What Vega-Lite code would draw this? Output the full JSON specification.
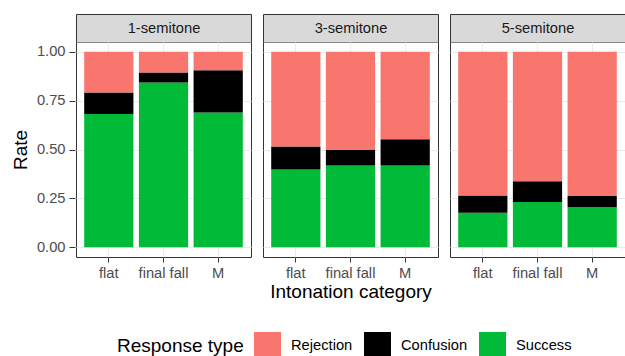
{
  "$schema": "https://vega.github.io/schema/vega-lite/v6.json",
  "padding": {"left": 11, "top": 13, "right": 1, "bottom": 0},
  "config": {
    "font": "Liberation Sans",
    "view": {"stroke": "#333333", "strokeWidth": 1}
  },
  "data": {"values": [
    {"interval": "1-semitone", "category": "flat", "response": "Success", "rate": 0.682},
    {"interval": "1-semitone", "category": "flat", "response": "Confusion", "rate": 0.110},
    {"interval": "1-semitone", "category": "flat", "response": "Rejection", "rate": 0.208},
    {"interval": "1-semitone", "category": "final fall", "response": "Success", "rate": 0.843},
    {"interval": "1-semitone", "category": "final fall", "response": "Confusion", "rate": 0.051},
    {"interval": "1-semitone", "category": "final fall", "response": "Rejection", "rate": 0.106},
    {"interval": "1-semitone", "category": "M", "response": "Success", "rate": 0.689},
    {"interval": "1-semitone", "category": "M", "response": "Confusion", "rate": 0.217},
    {"interval": "1-semitone", "category": "M", "response": "Rejection", "rate": 0.094},
    {"interval": "3-semitone", "category": "flat", "response": "Success", "rate": 0.398},
    {"interval": "3-semitone", "category": "flat", "response": "Confusion", "rate": 0.117},
    {"interval": "3-semitone", "category": "flat", "response": "Rejection", "rate": 0.485},
    {"interval": "3-semitone", "category": "final fall", "response": "Success", "rate": 0.418},
    {"interval": "3-semitone", "category": "final fall", "response": "Confusion", "rate": 0.080},
    {"interval": "3-semitone", "category": "final fall", "response": "Rejection", "rate": 0.502},
    {"interval": "3-semitone", "category": "M", "response": "Success", "rate": 0.418},
    {"interval": "3-semitone", "category": "M", "response": "Confusion", "rate": 0.135},
    {"interval": "3-semitone", "category": "M", "response": "Rejection", "rate": 0.447},
    {"interval": "5-semitone", "category": "flat", "response": "Success", "rate": 0.177},
    {"interval": "5-semitone", "category": "flat", "response": "Confusion", "rate": 0.088},
    {"interval": "5-semitone", "category": "flat", "response": "Rejection", "rate": 0.735},
    {"interval": "5-semitone", "category": "final fall", "response": "Success", "rate": 0.231},
    {"interval": "5-semitone", "category": "final fall", "response": "Confusion", "rate": 0.107},
    {"interval": "5-semitone", "category": "final fall", "response": "Rejection", "rate": 0.662},
    {"interval": "5-semitone", "category": "M", "response": "Success", "rate": 0.204},
    {"interval": "5-semitone", "category": "M", "response": "Confusion", "rate": 0.058},
    {"interval": "5-semitone", "category": "M", "response": "Rejection", "rate": 0.738}
  ]},
  "transform": [
    {"calculate": "indexof(['Success','Confusion','Rejection'], datum.response)", "as": "stackOrder"}
  ],
  "facet": {
    "column": {
      "field": "interval", "type": "nominal",
      "sort": ["1-semitone", "3-semitone", "5-semitone"],
      "header": {
        "title": "Intonation category", "titleOrient": "bottom", "labels": false,
        "titleFontSize": 19, "titleColor": "#000000", "titleFontWeight": "normal",
        "titlePadding": -8
      }
    }
  },
  "spacing": 10,
  "spec": {
    "width": 175,
    "height": 215,
    "layer": [
      {
        "mark": {"type": "bar"},
        "encoding": {
          "x": {
            "field": "category", "type": "nominal",
            "sort": ["flat", "final fall", "M"],
            "scale": {"paddingInner": 0.1, "paddingOuter": 0.15},
            "axis": {
              "title": null, "labelAngle": 0, "grid": true, "gridColor": "#EBEBEB",
              "bandPosition": 0.5, "tickSize": 5, "tickColor": "#333333", "domain": false,
              "labelColor": "#4D4D4D", "labelFontSize": 14.7, "labelPadding": 3
            }
          },
          "y": {
            "field": "rate", "type": "quantitative", "stack": "zero",
            "scale": {"domain": [-0.05, 1.05], "nice": false, "zero": false},
            "axis": {
              "title": "Rate", "titleFontSize": 19, "titleFontWeight": "normal", "titleColor": "#000000",
              "values": [0, 0.125, 0.25, 0.375, 0.5, 0.625, 0.75, 0.875, 1],
              "labelExpr": "(datum.value * 4) % 1 == 0 ? format(datum.value, '.2f') : ''",
              "tickOpacity": {"condition": {"test": "(datum.value * 4) % 1 != 0", "value": 0}, "value": 1},
              "gridWidth": {"condition": {"test": "(datum.value * 4) % 1 != 0", "value": 0.5}, "value": 1},
              "gridColor": "#EBEBEB", "tickSize": 6, "tickColor": "#333333", "domain": false,
              "labelColor": "#4D4D4D", "labelFontSize": 14.7, "labelPadding": 4, "titlePadding": 6
            }
          },
          "color": {
            "field": "response", "type": "nominal",
            "scale": {"domain": ["Rejection", "Confusion", "Success"], "range": ["#F8766D", "#000000", "#00BA38"]},
            "legend": {
              "title": "Response type", "orient": "none", "legendX": 41, "legendY": 290,
              "direction": "horizontal",
              "titleOrient": "left", "symbolType": "square", "symbolSize": 729, "symbolStrokeWidth": 0,
              "labelFontSize": 14.7, "titleFontSize": 19, "titleFontWeight": "normal", "titleColor": "#000000",
              "labelColor": "#000000", "columnPadding": 11, "labelOffset": 10, "titlePadding": 10,
              "padding": 0
            }
          },
          "order": {"field": "stackOrder", "type": "quantitative"}
        }
      },
      {
        "mark": {"type": "point", "opacity": 0},
        "encoding": {
          "x": {
            "field": "interval", "type": "nominal",
            "axis": {
              "orient": "top", "title": null, "domain": true, "domainColor": "#D9D9D9",
              "domainWidth": 28, "offset": 14, "ticks": false, "tickSize": 0,
              "labels": false, "grid": false
            }
          },
          "y": {"field": "rate", "type": "quantitative"}
        }
      },
      {
        "mark": {"type": "bar", "opacity": 0},
        "encoding": {
          "x": {
            "field": "interval", "type": "nominal",
            "scale": {"paddingInner": 0, "paddingOuter": 0},
            "axis": {
              "orient": "top", "title": null, "offset": 28,
              "domain": true, "domainColor": "#333333", "domainWidth": 1,
              "ticks": true, "tickSize": -28, "tickBand": "extent", "tickColor": "#333333", "tickWidth": 1,
              "labelPadding": 14, "labelBaseline": "middle", "labelFontSize": 14.7,
              "labelColor": "#1A1A1A", "grid": false, "labelAngle": 0
            }
          },
          "y": {"field": "rate", "type": "quantitative", "stack": null}
        }
      }
    ],
    "resolve": {"scale": {"x": "independent"}}
  },
  "resolve": {"scale": {"x": "independent"}}
}
